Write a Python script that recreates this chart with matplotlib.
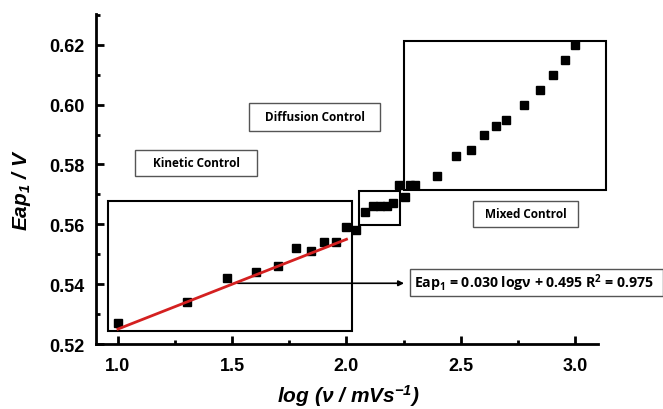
import matplotlib
matplotlib.use('Agg')
import matplotlib.pyplot as plt
from matplotlib.patches import Rectangle
from matplotlib.ticker import MultipleLocator, FormatStrFormatter
import numpy as np

# log of scan rate (mV/s) and first anodic peak potential (V)
log_v = [1.000, 1.301, 1.477, 1.602, 1.699, 1.778, 1.845, 1.903, 1.954, 2.000,
         2.041, 2.079, 2.114, 2.146, 2.176, 2.204, 2.230, 2.255, 2.279, 2.301,
         2.398, 2.477, 2.544, 2.602, 2.653, 2.699, 2.778, 2.845, 2.903, 2.954,
         3.000]
eap1 = [0.527, 0.534, 0.542, 0.544, 0.546, 0.552, 0.551, 0.554, 0.554, 0.559,
        0.558, 0.564, 0.566, 0.566, 0.566, 0.567, 0.573, 0.569, 0.573, 0.573,
        0.576, 0.583, 0.585, 0.590, 0.593, 0.595, 0.600, 0.605, 0.610, 0.615,
        0.620]

# linear fit over the kinetic region
slope = 0.030
intercept = 0.495
r2 = 0.975
fit_range = [1.0, 2.0]

plt.rcParams['font.family'] = ['Liberation Sans', 'DejaVu Sans']
plt.rcParams['mathtext.default'] = 'regular'

fig = plt.figure(figsize=(6.63, 4.10), dpi=100)
ax = fig.add_axes([0.1448, 0.1585, 0.757, 0.805])

ax.plot(log_v, eap1, 's', color='black', markersize=6, zorder=3)
fx = np.array(fit_range)
ax.plot(fx, slope * fx + intercept, color='#d42020', lw=2, zorder=4)

ax.set_xlim(0.904, 3.1)
ax.set_ylim(0.52, 0.6303)
ax.xaxis.set_major_locator(MultipleLocator(0.5))
ax.xaxis.set_minor_locator(MultipleLocator(0.25))
ax.yaxis.set_major_locator(MultipleLocator(0.02))
ax.yaxis.set_minor_locator(MultipleLocator(0.01))
ax.xaxis.set_major_formatter(FormatStrFormatter('%.1f'))
ax.yaxis.set_major_formatter(FormatStrFormatter('%.2f'))

for side in ['top', 'right']:
    ax.spines[side].set_visible(False)
for side in ['left', 'bottom']:
    ax.spines[side].set_linewidth(2)
ax.tick_params(which='major', direction='in', length=6, width=2,
               labelsize=13)
ax.tick_params(which='minor', direction='in', length=3, width=2)
ax.tick_params(axis='y', which='major', pad=8)
ax.tick_params(axis='x', which='major', pad=9)
for lab in ax.get_xticklabels() + ax.get_yticklabels():
    lab.set_fontweight('bold')

ax.set_xlabel(r'log ($\nu$ / mVs$^{-1}$)', fontsize=15, fontweight='bold',
              fontstyle='italic')
ax.set_ylabel(r'Eap$_1$ / V', fontsize=15, fontweight='bold',
              fontstyle='italic')
ax.yaxis.set_label_coords(-0.125, 0.47)
ax.xaxis.set_label_coords(0.502, -0.115)

# region boxes
regions = [
    (0.955, 0.5242, 2.023, 0.5678),
    (2.055, 0.5598, 2.234, 0.5713),
    (2.252, 0.5714, 3.134, 0.6213),
]
for x0, y0, x1, y1 in regions:
    ax.add_patch(Rectangle((x0, y0), x1 - x0, y1 - y0, fill=False,
                           edgecolor='black', lw=1.5, clip_on=False, zorder=2))

# labelled boxes
labels = [
    ('Kinetic Control', 1.0744, 0.5763, 1.6096, 0.585),
    ('Diffusion Control', 1.5746, 0.5913, 2.1466, 0.6006),
    ('Mixed Control', 2.555, 0.5591, 3.012, 0.5678),
]
text_font = ['Open Sans', 'DejaVu Sans']
for txt, x0, y0, x1, y1 in labels:
    ax.add_patch(Rectangle((x0, y0), x1 - x0, y1 - y0, fill=False,
                           edgecolor='#555555', lw=1.0, clip_on=False, zorder=2))
    ax.text((x0 + x1) / 2, (y0 + y1) / 2, txt, ha='center', va='center',
            fontsize=8.5, fontweight='bold', family=text_font)

# equation box with arrow
ex0, ey0, ex1, ey1 = 2.278, 0.5361, 3.384, 0.545
ax.add_patch(Rectangle((ex0, ey0), ex1 - ex0, ey1 - ey0, fill=False,
                       edgecolor='#555555', lw=1.0, clip_on=False, zorder=2))
ax.text((ex0 + ex1) / 2 - 0.01, (ey0 + ey1) / 2,
        'Eap$_1$ = %.3f log\u03bd + %.3f R$^2$ = %.3f'
        % (slope, intercept, r2),
        ha='center', va='center', fontsize=10.2, fontweight='bold',
        family=text_font)
ax.annotate('', xy=(2.252, 0.5403), xytext=(1.524, 0.5403),
            arrowprops=dict(arrowstyle='-|>', color='black', lw=1.2,
                            mutation_scale=8, shrinkA=0, shrinkB=0),
            annotation_clip=False)

fig.savefig('out.png', dpi=100)
